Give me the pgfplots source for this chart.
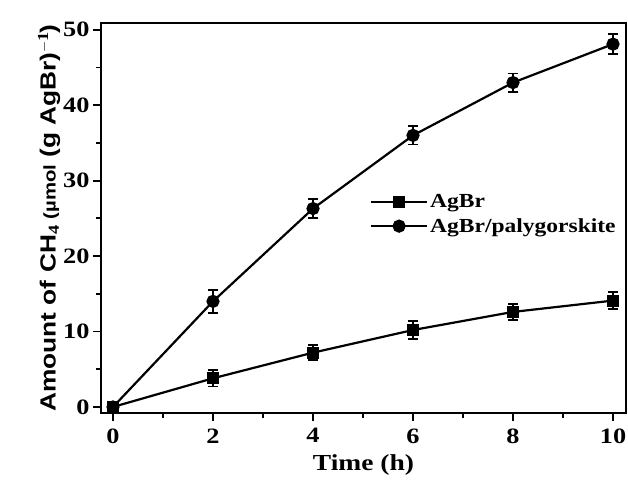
\documentclass[border=0pt]{standalone}
\usepackage{pgfplots}
\pgfplotsset{compat=1.18}
\usepackage{fontspec}
\setmainfont{Liberation Serif}[FakeStretch=1.2]
\newfontfamily\arialfont{Liberation Sans}[FakeStretch=1.2]
\newfontfamily\legfont{Liberation Serif}[FakeStretch=1.18]
\begin{document}
\begin{tikzpicture}[x=1bp,y=1bp]
\path[use as bounding box] (-101bp,-69bp) rectangle (527bp,413bp);
\begin{axis}[
  at={(0,0)}, anchor=south west,
  scale only axis, width=525bp, height=390bp,
  xmin=-0.24, xmax=10.26, ymin=-0.8, ymax=50.9,
  xtick={0,2,...,10}, ytick={0,10,...,50},
  minor xtick={1,3,...,9}, minor ytick={5,15,...,45},
  tick align=outside, tick pos=left,
  major tick length=8bp, minor tick length=5bp,
  every tick/.style={black, line width=1.8bp},
  axis line style={line width=1.8bp},
  ticklabel style={font=\fontsize{22}{24}\selectfont\bfseries},
  xticklabel style={yshift=-4bp},
  /pgf/number format/assume math mode=true,
  xlabel={\fontsize{23}{24}\selectfont\bfseries Time (h)},
  ylabel={\arialfont\fontsize{22}{24}\selectfont\bfseries Amount of CH$_{\mathbf{4}}$ {\fontsize{17}{20}\selectfont (µmol} (g AgBr)$^{\mathbf{-1}}$)},
  xlabel style={yshift=-4bp},
  ylabel style={yshift=-4bp},
  legend style={draw=none, fill=none, at={(0.512,0.565)}, anchor=north west,
    inner sep=0pt, font=\legfont\fontsize{20}{24}\selectfont\bfseries, row sep=5bp,
    nodes={inner xsep=2bp}},
  legend cell align=left,
  legend image code/.code={
    \draw[mark repeat=2,mark phase=2,#1,line width=2.2bp] plot coordinates {(0bp,0bp) (28bp,0bp) (56bp,0bp)};
  },
]
\addplot[black, line width=2.2bp, mark=square*, mark size=5bp,
  error bars/.cd, y dir=both, y explicit, error bar style={line width=1.8bp},
  error mark options={rotate=90, mark size=5bp, line width=1.8bp}]
  coordinates {(0,0) +- (0,0.6) (2,3.8) +- (0,1.1) (4,7.2) +- (0,1.0) (6,10.2) +- (0,1.2) (8,12.6) +- (0,1.1) (10,14.1) +- (0,1.1)};
\addlegendentry{AgBr}
\addplot[black, line width=2.2bp, mark=*, mark size=5.5bp,
  error bars/.cd, y dir=both, y explicit, error bar style={line width=1.8bp},
  error mark options={rotate=90, mark size=5bp, line width=1.8bp}]
  coordinates {(0,0) +- (0,0.6) (2,14.0) +- (0,1.5) (4,26.3) +- (0,1.3) (6,36.0) +- (0,1.2) (8,43.0) +- (0,1.2) (10,48.1) +- (0,1.3)};
\addlegendentry{AgBr/palygorskite}
\end{axis}
\end{tikzpicture}
\end{document}
